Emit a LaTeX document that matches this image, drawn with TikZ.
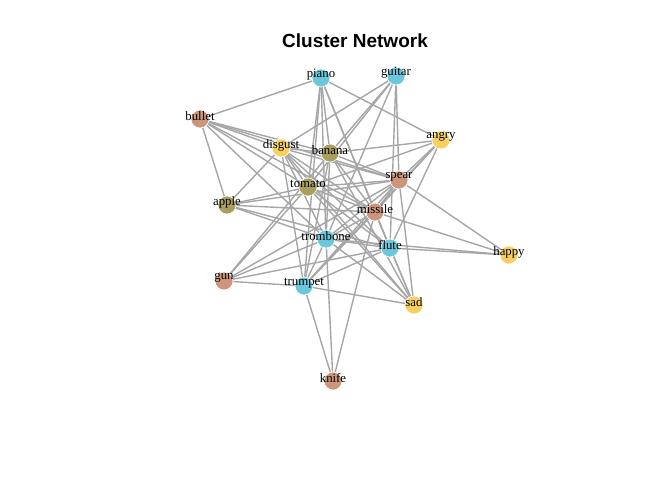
\documentclass[tikz,border=0pt]{standalone}
\usepackage{fontspec}
\setmainfont{Liberation Serif}
\newfontfamily\titlefont{Liberation Sans}
\usetikzlibrary{backgrounds}
\definecolor{cblue}{HTML}{6CC7DA}
\definecolor{cyel}{HTML}{F8D060}
\definecolor{csal}{HTML}{CD967C}
\definecolor{coli}{HTML}{A89F5E}
\definecolor{edgec}{HTML}{A6A6A6}
\tikzset{
  vert/.style={circle,draw=white,line width=0.6pt,minimum size=18pt,inner sep=0pt},
  lab/.style={font=\fontsize{12.8}{12.8}\selectfont,inner sep=0pt,yshift=3pt},
  link/.style={draw=edgec,line width=1.4pt}
}
\begin{document}
\begin{tikzpicture}[x=1pt,y=-1pt]
\useasboundingbox (0,0) rectangle (672,480);
\node[font=\titlefont\bfseries\fontsize{19}{19}\selectfont] (title) at (355,41) {Cluster Network};
\node[vert,fill=cblue] (piano) at (321,78) {};
\node[vert,fill=cblue] (guitar) at (396,76) {};
\node[vert,fill=csal] (bullet) at (200,119) {};
\node[vert,fill=cyel] (angry) at (441,140) {};
\node[vert,fill=cyel] (disgust) at (281,148) {};
\node[vert,fill=coli] (banana) at (330,153) {};
\node[vert,fill=csal] (spear) at (399,180) {};
\node[vert,fill=coli] (tomato) at (308,187) {};
\node[vert,fill=coli] (apple) at (227,205) {};
\node[vert,fill=csal] (missile) at (375,212) {};
\node[vert,fill=cblue] (trombone) at (326,239) {};
\node[vert,fill=cblue] (flute) at (390,248) {};
\node[vert,fill=cyel] (happy) at (509,255) {};
\node[vert,fill=csal] (gun) at (224,281) {};
\node[vert,fill=cblue] (trumpet) at (304,286) {};
\node[vert,fill=cyel] (sad) at (414,305) {};
\node[vert,fill=csal] (knife) at (333,381) {};
\begin{pgfonlayer}{background}
\foreach \a/\b in {piano/bullet,piano/angry,piano/trumpet,piano/trombone,piano/banana,piano/missile,piano/flute,piano/tomato,
 guitar/disgust,guitar/banana,guitar/tomato,guitar/spear,guitar/flute,guitar/trombone,
 bullet/apple,bullet/disgust,bullet/banana,bullet/spear,bullet/missile,bullet/tomato,bullet/trombone,
 disgust/apple,disgust/banana,disgust/spear,disgust/missile,disgust/flute,disgust/trombone,disgust/trumpet,disgust/sad,disgust/tomato,
 banana/angry,banana/spear,banana/missile,banana/trombone,banana/trumpet,banana/sad,banana/gun,
 tomato/angry,tomato/spear,tomato/apple,tomato/gun,tomato/missile,tomato/flute,tomato/sad,
 apple/missile,apple/trombone,apple/flute,apple/spear,
 spear/angry,spear/happy,spear/missile,spear/trumpet,spear/trombone,spear/gun,spear/sad,
 missile/angry,missile/happy,missile/trombone,missile/flute,missile/sad,missile/trumpet,missile/knife,
 trombone/flute,trombone/happy,trombone/sad,trombone/trumpet,trombone/gun,trombone/knife,
 flute/happy,flute/sad,flute/gun,flute/trumpet,flute/angry,
 trumpet/gun,trumpet/sad,trumpet/knife,trumpet/angry}
  \draw[link] (\a) -- (\b);
\end{pgfonlayer}
\foreach \n in {piano,guitar,bullet,angry,disgust,banana,spear,tomato,apple,missile,trombone,flute,happy,gun,trumpet,sad,knife}
  \node[lab] at (\n) {\n};
\end{tikzpicture}
\end{document}
